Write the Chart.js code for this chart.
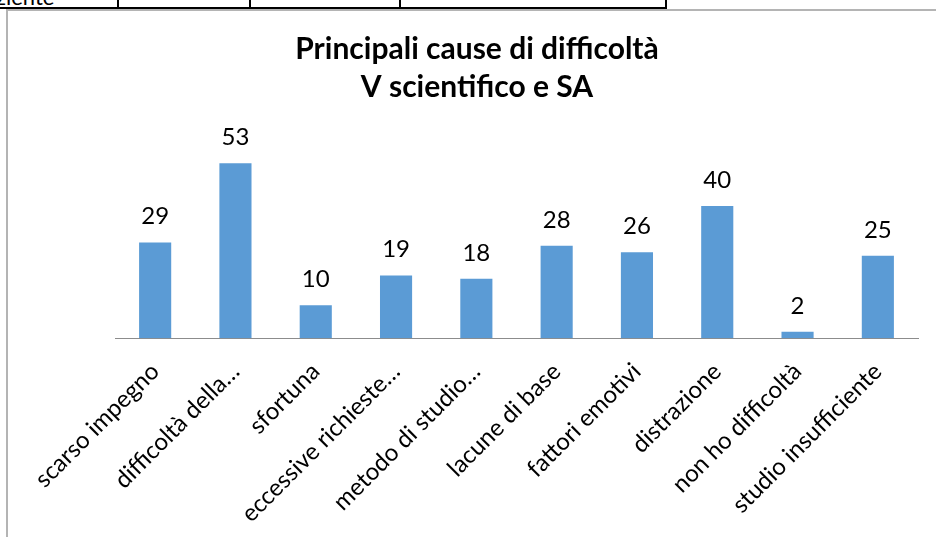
<!DOCTYPE html>
<html>
<head>
<meta charset="utf-8">
<script src="https://cdn.jsdelivr.net/npm/chart.js@4/dist/chart.umd.min.js"></script>
<style>
  body { margin: 0; background: #fff; overflow: hidden; }
  #wrap { position: relative; width: 936px; height: 537px; overflow: hidden; }
  .tline { position: absolute; background: #000; }
  #frame { position: absolute; left: 6px; top: 9px; right: 0; bottom: 0;
           border-top: 2px solid #b4b4b4; border-left: 2px solid #b4b4b4; }
  #cut { position: absolute; left: -4px; top: -17px; font: 22px Lato, sans-serif; color: #000; }
  canvas { position: absolute; left: 0; top: 0; }
</style>
</head>
<body>
<div id="wrap">
  <!-- bit of the table above the chart -->
  <div id="cut">ziente</div>
  <div class="tline" style="left:0; top:7px; width:667px; height:2px"></div>
  <div class="tline" style="left:117px; top:0; width:2px; height:8px"></div>
  <div class="tline" style="left:249px; top:0; width:2px; height:8px"></div>
  <div class="tline" style="left:399px; top:0; width:2px; height:8px"></div>
  <div class="tline" style="left:665px; top:0; width:2px; height:8px"></div>
  <div id="frame"></div>
  <canvas id="chart" width="936" height="539"></canvas>
</div>
<script>
// Chart data
const titleLines = ['Principali cause di difficoltà', 'V scientifico e SA'];
const categories = ['scarso impegno', 'difficoltà della…', 'sfortuna', 'eccessive richieste…',
                    'metodo di studio…', 'lacune di base', 'fattori emotivi', 'distrazione',
                    'non ho difficoltà', 'studio insufficiente'];
const values = [29, 53, 10, 19, 18, 28, 26, 40, 2, 25];

// value labels above the bars
const valueLabels = {
    id: 'valueLabels',
    afterDatasetsDraw(chart) {
        const ctx = chart.ctx;
        const meta = chart.getDatasetMeta(0);
        ctx.save();
        ctx.font = '24px Lato, sans-serif';
        ctx.fillStyle = '#000';
        ctx.textAlign = 'center';
        ctx.textBaseline = 'alphabetic';
        meta.data.forEach((bar, i) => {
            ctx.fillText(String(values[i]), bar.x, bar.y - 18);
        });
        ctx.restore();
    }
};

const ctx = document.getElementById('chart').getContext('2d');
const chart = new Chart(ctx, {
    type: 'bar',
    data: {
        labels: categories,
        datasets: [{
            data: values,
            backgroundColor: '#5b9bd5',
            borderWidth: 0,
            categoryPercentage: 1,
            barPercentage: 0.4
        }]
    },
    options: {
        responsive: false,
        animation: false,
        layout: {
            padding: { left: 36, right: 18, top: 0, bottom: 0 }
        },
        plugins: {
            legend: { display: false },
            tooltip: { enabled: false },
            title: {
                display: true,
                text: titleLines,
                color: '#000',
                font: { family: 'Lato', size: 30, weight: 'bold', lineHeight: 1.25 },
                padding: { top: 31, bottom: 34 }
            }
        },
        scales: {
            x: {
                grid: { display: false },
                border: { display: true, color: '#8c8c8c', width: 1 },
                ticks: {
                    color: '#000',
                    font: { family: 'Lato', size: 24 },
                    minRotation: 45,
                    maxRotation: 45,
                    autoSkip: false,
                    padding: 11
                }
            },
            y: {
                min: 0,
                max: 60,
                grid: { display: false },
                border: { display: false },
                ticks: { display: false },
                afterFit(scale) { scale.width = 79; }
            }
        }
    },
    plugins: [valueLabels]
});
</script>
</body>
</html>
